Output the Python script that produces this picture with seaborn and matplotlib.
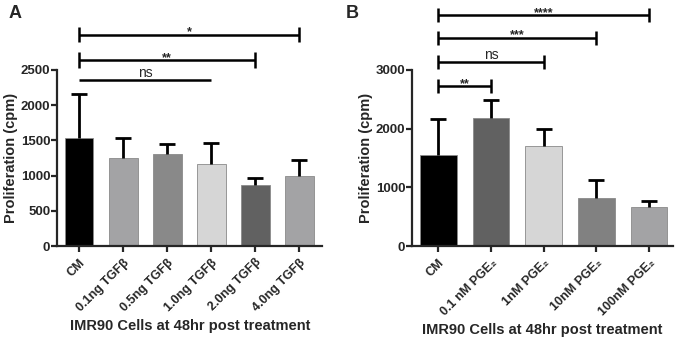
import matplotlib
matplotlib.use("Agg")
import matplotlib.pyplot as plt
import seaborn as sns
import numpy as np
import pandas as pd

# Panel A data
groupsA = ["CM", "0.1ng TGFβ", "0.5ng TGFβ", "1.0ng TGFβ", "2.0ng TGFβ", "4.0ng TGFβ"]
meanA = [1540, 1250, 1300, 1160, 860, 1000]
errA = [620, 290, 150, 310, 110, 220]
colorsA = ["#000000", "#a2a2a6", "#898989", "#d6d6d6", "#616161", "#a2a2a6"]
# (start index, end index, label, y, caps)
sigA = [(0, 5, "*", 3000, True), (0, 4, "**", 2640, True), (0, 3, "ns", 2360, False)]

# Panel B data
groupsB = ["CM", "0.1 nM PGE₂", "1nM PGE₂", "10nM PGE₂", "100nM PGE₂"]
meanB = [1550, 2190, 1710, 820, 670]
errB = [610, 300, 290, 300, 105]
colorsB = ["#000000", "#616161", "#d6d6d6", "#818181", "#a2a2a6"]
sigB = [(0, 4, "****", 3935, True), (0, 3, "***", 3545, True), (0, 2, "ns", 3135, True), (0, 1, "**", 2725, True)]

sns.set_style("ticks")
plt.rcParams['font.family'] = ['Liberation Sans', 'DejaVu Sans']
plt.rcParams['font.weight'] = 'bold'
plt.rcParams['axes.linewidth'] = 1.6

fig = plt.figure(figsize=(6.8, 3.38), dpi=100)
axA = fig.add_axes([0.084, 0.272, 0.39, 0.521])
axB = fig.add_axes([0.606, 0.272, 0.384, 0.521])


def drawPanel(ax, groups, means, errs, colors, sigs, ymax, step, width, xmax, capH):
    df = pd.DataFrame({"group": groups, "value": means})
    sns.barplot(data=df, x="group", y="value", hue="group", palette=colors,
                legend=False, width=width, edgecolor="#8a8a8a", linewidth=0.6,
                errorbar=None, ax=ax)
    x = np.arange(len(groups))
    eb = ax.errorbar(x, means, yerr=[np.zeros(len(means)), errs], fmt="none",
                     ecolor="black", elinewidth=2, capsize=5.5, capthick=2, zorder=3)
    # only keep the upper cap
    eb[1][0].set_visible(False)
    ax.set_ylim(0, ymax)
    ax.set_yticks(np.arange(0, ymax + 1, step))
    ax.set_xlim(-0.5, xmax)
    ax.set_ylabel("Proliferation (cpm)", fontsize=10.5, fontweight="bold", labelpad=2)
    ax.set_xlabel("IMR90 Cells at 48hr post treatment", fontsize=10.5, fontweight="bold", labelpad=4)
    ax.set_xticks(x)
    ax.set_xticklabels(groups, rotation=45, ha="right", rotation_mode="anchor",
                       fontsize=9, fontweight="bold")
    ax.tick_params(axis="y", labelsize=9.5, width=1.6, length=4, pad=1)
    ax.tick_params(axis="x", width=1.6, length=4)
    sns.despine(ax=ax)
    # significance brackets
    for i0, i1, lab, yv, caps in sigs:
        ax.plot([x[i0], x[i1]], [yv, yv], color="black", lw=1.8, clip_on=False,
                solid_capstyle="butt")
        if caps:
            for xi in (x[i0], x[i1]):
                ax.plot([xi, xi], [yv - capH, yv + capH], color="black", lw=1.8,
                        clip_on=False, solid_capstyle="butt")
        isNs = lab == "ns"
        ax.annotate(lab, ((x[i0] + x[i1]) / 2, yv), xytext=(0, 2 if isNs else -0.5),
                    textcoords="offset points", ha="center", va="baseline",
                    fontsize=10 if isNs else 9, fontweight="normal" if isNs else "bold",
                    annotation_clip=False)


drawPanel(axA, groupsA, meanA, errA, colorsA, sigA, 2500, 500, 0.65, 5.52, 110)
drawPanel(axB, groupsB, meanB, errB, colorsB, sigB, 3000, 1000, 0.7, 4.46, 120)

fig.text(0.012, 0.985, "A", fontsize=13, fontweight="bold", va="top")
fig.text(0.508, 0.985, "B", fontsize=13, fontweight="bold", va="top")

fig.savefig("out.png", dpi=100)
